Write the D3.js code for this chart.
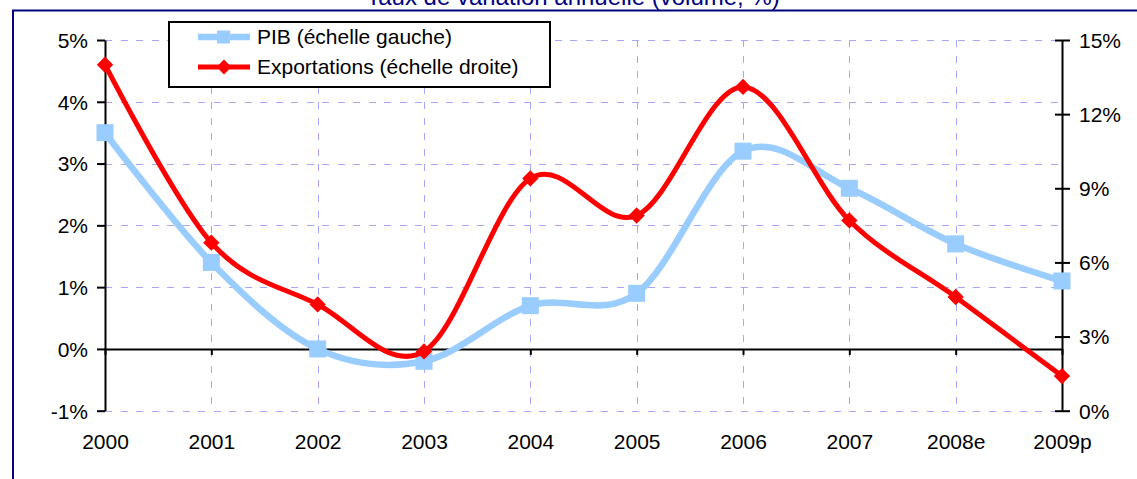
<!DOCTYPE html>
<meta charset="utf-8">
<style>
    body { margin: 0; background: #fff; }
    text { font-family: "Liberation Sans", Arial, sans-serif; fill: #000; }
    .grid line { stroke: #a6a6ff; stroke-width: 1px; stroke-dasharray: 7,8.5; shape-rendering: crispEdges; }
    .axis path, .axis line { stroke: #000; stroke-width: 2px; fill: none; }
</style>
<body>
<svg width="1137" height="479"></svg>
<script src="https://d3js.org/d3.v7.min.js"></script>
<script>
    var years = ["2000", "2001", "2002", "2003", "2004", "2005", "2006", "2007", "2008e", "2009p"];
    var pib = [3.5, 1.4, 0.0, -0.2, 0.7, 0.9, 3.2, 2.6, 1.7, 1.1];
    var exportations = [14.0, 6.8, 4.3, 2.4, 9.4, 7.9, 13.1, 7.7, 4.6, 1.4];
    var leftTicks = [-1, 0, 1, 2, 3, 4, 5];
    var rightTicks = [0, 3, 6, 9, 12, 15];

    var svg = d3.select("svg"),
        plotLeft = 105, plotRight = 1062, plotTop = 40, plotBottom = 410.7,
        fontSize = "21px";

    // frame + title
    svg.append("path")
        .attr("d", "M13,479 L13,10.5 L1137,10.5")
        .attr("fill", "none").attr("stroke", "#000080").attr("stroke-width", 2);
    svg.append("text")
        .attr("x", 573).attr("y", 5)
        .attr("text-anchor", "middle")
        .style("font-size", "24px").style("fill", "#000080")
        .text("Taux de variation annuelle (volume, %)");

    var x = d3.scalePoint().domain(years).range([plotLeft, plotRight]);
    var y = d3.scaleLinear().domain([-1, 5]).range([plotBottom, plotTop]);
    var y2 = d3.scaleLinear().domain([0, 15]).range([plotBottom, plotTop]);

    // grid
    var grid = svg.append("g").attr("class", "grid");
    grid.selectAll(".h").data(leftTicks.filter(function(d) { return d !== 0; }))
        .enter().append("line")
        .attr("x1", plotLeft).attr("x2", plotRight)
        .attr("y1", function(d) { return Math.round(y(d)) + 0.5; })
        .attr("y2", function(d) { return Math.round(y(d)) + 0.5; });
    grid.selectAll(".v").data(years.slice(1, -1))
        .enter().append("line")
        .attr("y1", plotTop).attr("y2", plotBottom)
        .attr("x1", function(d) { return Math.round(x(d)) + 0.5; })
        .attr("x2", function(d) { return Math.round(x(d)) + 0.5; });

    // axes
    var yAxis = svg.append("g").attr("class", "axis")
        .attr("transform", "translate(" + plotLeft + ",0)")
        .call(d3.axisLeft(y).tickValues(leftTicks).tickSize(8).tickSizeOuter(0)
            .tickFormat(function(d) { return d + "%"; }));
    yAxis.selectAll("text").attr("x", -17).style("font-size", fontSize).attr("dy", "0.35em");

    var y2Axis = svg.append("g").attr("class", "axis")
        .attr("transform", "translate(" + plotRight + ",0)")
        .call(d3.axisRight(y2).tickValues(rightTicks).tickSize(8).tickSizeOuter(0)
            .tickFormat(function(d) { return d + "%"; }));
    y2Axis.selectAll(".tick line").attr("x1", -7);
    y2Axis.selectAll("text").attr("x", 17).style("font-size", fontSize).attr("dy", "0.35em");

    var xAxis = svg.append("g").attr("class", "axis")
        .attr("transform", "translate(0," + y(0) + ")")
        .call(d3.axisBottom(x).tickSize(6).tickSizeOuter(0));
    xAxis.selectAll("text")
        .attr("y", plotBottom - y(0) + 38)
        .attr("dy", 0)
        .style("font-size", fontSize);

    // curves
    var curve = d3.curveCardinal.tension(0);
    var linePib = d3.line().curve(curve)
        .x(function(d, i) { return x(years[i]); })
        .y(function(d) { return y(d); });
    var lineExp = d3.line().curve(curve)
        .x(function(d, i) { return x(years[i]); })
        .y(function(d) { return y2(d); });

    svg.append("path").datum(pib)
        .attr("d", linePib)
        .attr("fill", "none").attr("stroke", "#99ccff").attr("stroke-width", 6.5);
    svg.selectAll(".sq").data(pib).enter().append("rect")
        .attr("x", function(d, i) { return x(years[i]) - 8.5; })
        .attr("y", function(d) { return y(d) - 8.5; })
        .attr("width", 17).attr("height", 17)
        .attr("fill", "#99ccff");

    svg.append("path").datum(exportations)
        .attr("d", lineExp)
        .attr("fill", "none").attr("stroke", "#ff0000").attr("stroke-width", 5);
    var diamond = d3.symbol().type(d3.symbolDiamond2).size(170);
    svg.selectAll(".dm").data(exportations).enter().append("path")
        .attr("transform", function(d, i) { return "translate(" + x(years[i]) + "," + y2(d) + ")"; })
        .attr("d", diamond)
        .attr("fill", "#ff0000");

    // legend
    var lg = svg.append("g");
    lg.append("rect")
        .attr("x", 169).attr("y", 22).attr("width", 381).attr("height", 65)
        .attr("fill", "#fff").attr("stroke", "#000").attr("stroke-width", 2);
    var items = [
        {name: "PIB (échelle gauche)", color: "#99ccff", w: 6.5},
        {name: "Exportations (échelle droite)", color: "#ff0000", w: 5}
    ];
    items.forEach(function(it, i) {
        var cy = 37 + i * 30;
        lg.append("line").attr("x1", 198).attr("x2", 250).attr("y1", cy).attr("y2", cy)
            .attr("stroke", it.color).attr("stroke-width", it.w);
        if (i === 0) {
            lg.append("rect").attr("x", 217).attr("y", cy - 6.5).attr("width", 13).attr("height", 13)
                .attr("fill", it.color);
        } else {
            lg.append("path").attr("transform", "translate(224," + cy + ")")
                .attr("d", d3.symbol().type(d3.symbolDiamond2).size(140)).attr("fill", it.color);
        }
        lg.append("text").attr("x", 257).attr("y", cy).attr("dy", "0.35em")
            .style("font-size", fontSize).text(it.name);
    });
</script>
</body>
